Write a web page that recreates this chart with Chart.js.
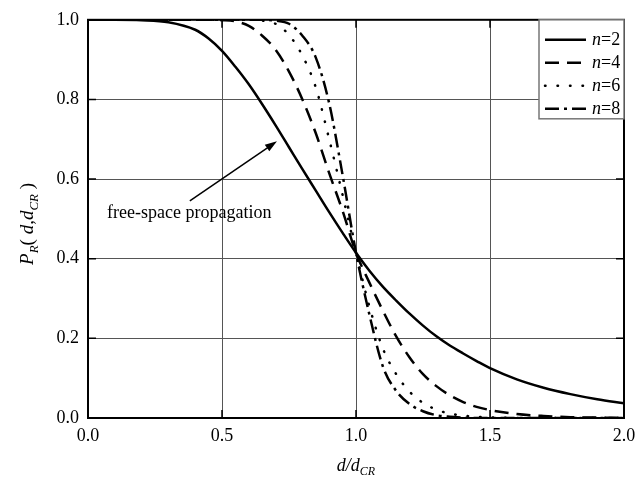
<!DOCTYPE html>
<html>
<head>
<meta charset="utf-8">
<script src="https://cdn.jsdelivr.net/npm/chart.js@4.4.0/dist/chart.umd.min.js"></script>
<style>
    html, body { margin: 0; padding: 0; background: #fff; }
    canvas { display: block; }
</style>
</head>
<body>
<canvas id="chart" width="636" height="483"></canvas>
<script>
// d/d_CR sample positions and P_R values
const xValues = [0, 0.1, 0.2, 0.3, 0.4, 0.45, 0.5, 0.55, 0.6, 0.65, 0.7, 0.75, 0.8, 0.85, 0.9, 0.95,
    1.0, 1.05, 1.1, 1.15, 1.2, 1.25, 1.3, 1.35, 1.4, 1.45, 1.5, 1.6, 1.7, 1.8, 1.9, 2.0];

const n2 = [1.0, 1.0, 0.999, 0.994, 0.975, 0.953, 0.922, 0.882, 0.838, 0.788, 0.735, 0.68, 0.625, 0.571, 0.517, 0.465,
    0.415, 0.37, 0.33, 0.295, 0.262, 0.232, 0.205, 0.182, 0.162, 0.143, 0.125, 0.097, 0.076, 0.06, 0.047, 0.037];
const n4 = [1.0, 1.0, 1.0, 1.0, 1.0, 1.0, 0.999, 0.996, 0.985, 0.96, 0.925, 0.87, 0.80, 0.715, 0.615, 0.52,
    0.415, 0.34, 0.27, 0.205, 0.152, 0.11, 0.08, 0.057, 0.04, 0.028, 0.02, 0.01, 0.005, 0.002, 0.001, 0.0];
const n6 = [1.0, 1.0, 1.0, 1.0, 1.0, 1.0, 1.0, 1.0, 1.0, 0.998, 0.99, 0.962, 0.91, 0.83, 0.70, 0.56,
    0.415, 0.28, 0.175, 0.11, 0.066, 0.038, 0.021, 0.011, 0.006, 0.003, 0.0015, 0.0, 0.0, 0.0, 0.0, 0.0];
const n8 = [1.0, 1.0, 1.0, 1.0, 1.0, 1.0, 1.0, 1.0, 1.0, 1.0, 0.998, 0.99, 0.96, 0.905, 0.79, 0.61,
    0.415, 0.26, 0.13, 0.068, 0.035, 0.017, 0.007, 0.003, 0.001, 0.0, 0.0, 0.0, 0.0, 0.0, 0.0, 0.0];

const seriesLabels = ['2', '4', '6', '8'];
const xTicks = [0, 0.5, 1.0, 1.5, 2.0];
const yTicks = [0, 0.2, 0.4, 0.6, 0.8, 1.0];

const FONT = '"Liberation Serif", "Times New Roman", serif';

const lineStyles = [
    { dash: [], cap: 'butt' },
    { dash: [14, 8], cap: 'butt' },
    { dash: [0.5, 12], cap: 'round' },
    { dash: [14, 5, 3, 5], cap: 'butt' }
];

function toPoints(values) {
    return xValues.map((x, i) => ({ x: x, y: values[i] }));
}

function richFont(p, size) {
    const s = p.sub ? Math.round(size * 0.68) : size;
    return (p.italic ? 'italic ' : '') + s + 'px ' + FONT;
}

// draws text made of pieces (italic / subscript), centred or left aligned
function drawRich(ctx, parts, x, y, size, align) {
    let total = 0;
    parts.forEach(p => {
        ctx.font = richFont(p, size);
        total += ctx.measureText(p.t).width;
    });
    let cx = align === 'left' ? x : x - total / 2;
    ctx.textAlign = 'left';
    ctx.textBaseline = 'middle';
    ctx.fillStyle = '#000';
    parts.forEach(p => {
        ctx.font = richFont(p, size);
        ctx.fillText(p.t, cx, y + (p.sub ? size * 0.32 : 0));
        cx += ctx.measureText(p.t).width;
    });
}

const overlay = {
    id: 'overlay',
    afterDraw(chart) {
        const ctx = chart.ctx;
        const area = chart.chartArea;
        const xs = chart.scales.x;
        const ys = chart.scales.y;
        ctx.save();

        // inward ticks
        ctx.strokeStyle = '#000';
        ctx.lineWidth = 1.5;
        ctx.beginPath();
        yTicks.forEach(v => {
            const py = ys.getPixelForValue(v);
            ctx.moveTo(area.left, py); ctx.lineTo(area.left + 8, py);
            ctx.moveTo(area.right, py); ctx.lineTo(area.right - 8, py);
        });
        xTicks.forEach(v => {
            const px = xs.getPixelForValue(v);
            ctx.moveTo(px, area.bottom); ctx.lineTo(px, area.bottom - 8);
            ctx.moveTo(px, area.top); ctx.lineTo(px, area.top + 8);
        });
        ctx.stroke();

        // frame
        ctx.lineWidth = 2;
        ctx.strokeRect(area.left, area.top, area.right - area.left, area.bottom - area.top);

        // legend
        const lx = area.right - 85, ly = area.top, lw = 85, lh = 99;
        ctx.fillStyle = '#fff';
        ctx.fillRect(lx, ly, lw, lh);
        ctx.strokeStyle = '#777';
        ctx.lineWidth = 1.5;
        ctx.strokeRect(lx, ly, lw, lh);
        seriesLabels.forEach((lab, i) => {
            const ry = ly + 20 + i * 23;
            ctx.strokeStyle = '#000';
            ctx.lineWidth = 2.5;
            ctx.setLineDash(lineStyles[i].dash);
            ctx.lineCap = lineStyles[i].cap;
            ctx.beginPath();
            ctx.moveTo(lx + 6, ry);
            ctx.lineTo(lx + 47, ry);
            ctx.stroke();
            ctx.setLineDash([]);
            ctx.lineCap = 'butt';
            drawRich(ctx, [{ t: 'n', italic: true }, { t: '=' + lab }], lx + 53, ry, 18, 'left');
        });

        // annotation with arrow
        ctx.fillStyle = '#000';
        ctx.font = '18px ' + FONT;
        ctx.textAlign = 'left';
        ctx.textBaseline = 'middle';
        ctx.fillText('free-space propagation', xs.getPixelForValue(0.071), ys.getPixelForValue(0.515));
        const ax0 = xs.getPixelForValue(0.38), ay0 = ys.getPixelForValue(0.545);
        const ax1 = xs.getPixelForValue(0.705), ay1 = ys.getPixelForValue(0.695);
        const ang = Math.atan2(ay1 - ay0, ax1 - ax0);
        ctx.strokeStyle = '#000';
        ctx.lineWidth = 1.5;
        ctx.beginPath();
        ctx.moveTo(ax0, ay0);
        ctx.lineTo(ax1 - 8 * Math.cos(ang), ay1 - 8 * Math.sin(ang));
        ctx.stroke();
        ctx.beginPath();
        ctx.moveTo(ax1, ay1);
        ctx.lineTo(ax1 - 12 * Math.cos(ang) + 4 * Math.sin(ang), ay1 - 12 * Math.sin(ang) - 4 * Math.cos(ang));
        ctx.lineTo(ax1 - 12 * Math.cos(ang) - 4 * Math.sin(ang), ay1 - 12 * Math.sin(ang) + 4 * Math.cos(ang));
        ctx.closePath();
        ctx.fill();

        // axis titles
        const midX = (area.left + area.right) / 2;
        drawRich(ctx, [{ t: 'd/d', italic: true }, { t: 'CR', italic: true, sub: true }], midX, area.bottom + 48, 18);

        ctx.translate(28, (area.top + area.bottom) / 2 + 5);
        ctx.rotate(-Math.PI / 2);
        drawRich(ctx, [
            { t: 'P', italic: true }, { t: 'R', italic: true, sub: true },
            { t: '( ' }, { t: 'd', italic: true }, { t: ',' }, { t: 'd', italic: true },
            { t: 'CR', italic: true, sub: true }, { t: ' )' }
        ], 0, 0, 19);

        ctx.restore();
    }
};

const datasets = [n2, n4, n6, n8].map((vals, i) => ({
    label: 'n=' + seriesLabels[i],
    data: toPoints(vals),
    borderColor: '#000',
    borderWidth: 2.5,
    borderDash: lineStyles[i].dash,
    borderCapStyle: lineStyles[i].cap,
    pointRadius: 0,
    fill: false,
    cubicInterpolationMode: 'monotone'
}));

new Chart(document.getElementById('chart').getContext('2d'), {
    type: 'line',
    data: { datasets: datasets },
    options: {
        responsive: false,
        animation: false,
        layout: { padding: { top: 18, right: 0, left: 0, bottom: 0 } },
        plugins: { legend: { display: false }, tooltip: { enabled: false } },
        scales: {
            x: {
                type: 'linear',
                min: 0,
                max: 2,
                afterFit: scale => {
                    scale.height = 65;
                    scale.paddingRight = 12;
                },
                afterBuildTicks: scale => { scale.ticks = xTicks.map(v => ({ value: v })); },
                grid: { color: '#555', lineWidth: 1, drawTicks: false },
                border: { display: false },
                ticks: {
                    padding: 7,
                    color: '#000',
                    font: { family: FONT, size: 18 },
                    callback: v => v.toFixed(1)
                }
            },
            y: {
                min: 0,
                max: 1,
                afterFit: scale => { scale.width = 88; },
                afterBuildTicks: scale => { scale.ticks = yTicks.map(v => ({ value: v })); },
                grid: { color: '#555', lineWidth: 1, drawTicks: false },
                border: { display: false },
                ticks: {
                    padding: 9,
                    color: '#000',
                    font: { family: FONT, size: 18 },
                    callback: v => v.toFixed(1)
                }
            }
        }
    },
    plugins: [overlay]
});
</script>
</body>
</html>
